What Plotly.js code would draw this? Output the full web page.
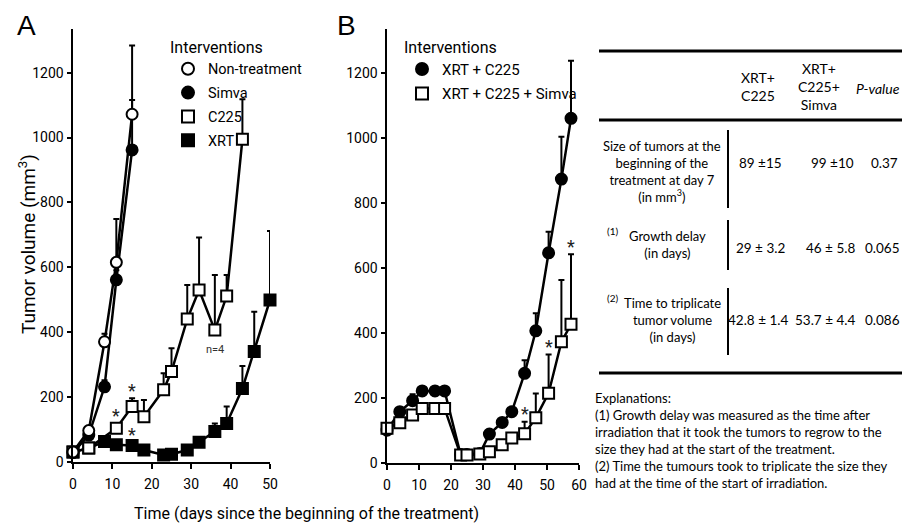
<!DOCTYPE html>
<html>
<head>
<meta charset="utf-8">
<script src="https://cdn.plot.ly/plotly-3.0.1.min.js"></script>
<style>html,body{margin:0;padding:0;background:#fff}#chart{width:906px;height:527px}</style>
</head>
<body>
<div id="chart"></div>
<script>
// ---------- Panel A data ----------
const daysNonTreat = [0, 4, 8, 11, 15];
const nonTreat     = [30, 96, 370, 615, 1072];
const nonTreatErr  = [5, 10, 25, 134, 212];

const daysSimva = [0, 4, 8, 11, 15];
const simva     = [28, 82, 231, 561, 962];
const simvaErr  = [5, 10, 20, 30, 154];

const daysC225 = [0, 4, 11, 15, 18, 23, 25, 29, 32, 36, 39, 43];
const c225     = [30, 42, 103, 170, 139, 222, 278, 440, 530, 406, 511, 995];
const c225Err  = [5, 8, 15, 26, 51, 51, 72, 105, 162, 170, 65, 123];

const daysXRT = [0, 4, 8, 11, 15, 18, 23, 25, 29, 32, 36, 39, 43, 46, 50];
const xrt     = [30, 42, 62, 52, 50, 36, 21, 23, 36, 60, 93, 118, 226, 340, 499];
const xrtErr  = [5, 5, 10, 8, 8, 6, 5, 5, 6, 10, 25, 52, 69, 123, 213];

// ---------- Panel B data ----------
const daysB       = [0, 4, 8, 11, 15, 18, 23, 25, 29, 32, 36, 39, 43, 46.5, 50.5, 54.5, 57.5];
const xrtC225     = [100, 157, 191, 221, 221, 221, 25, 25, 28, 88, 124, 157, 275, 406, 646, 873, 1060];
const xrtC225Err  = [8, 8, 20, 8, 8, 8, 4, 4, 5, 8, 8, 10, 40, 54, 65, 130, 177];
const xrtC225Sim    = [106, 123, 147, 167, 167, 167, 24, 24, 27, 34, 55, 76, 89, 138, 214, 372, 426];
const xrtC225SimErr = [10, 8, 8, 8, 8, 8, 4, 4, 5, 6, 8, 8, 37, 75, 119, 190, 216];

// significance markers (indices into series)
const starsC225A = [2, 3];
const starsXRTA  = [4];
const starsSimB  = [12, 14, 16];
const nNoteIdx = 9; const nNoteText = 'n=4';

// ticks
const xTicksA = [0, 10, 20, 30, 40, 50];
const xTicksB = [0, 10, 20, 30, 40, 50, 60];
const yTicks  = [0, 200, 400, 600, 800, 1000, 1200];

// ---------- Table ----------
const tableHeaders = ['XRT+<br>C225', 'XRT+<br>C225+<br>Simva', '<i>P-value</i>'];
const rowLabels = ['Size of tumors at the<br>beginning of the<br>treatment at day 7<br>(in mm<sup>3</sup>)',
                   'Growth delay<br>(in days)',
                   'Time to triplicate<br>tumor volume<br>(in days)'];
const rowNotes = ['', '(1)', '(2)'];
const colXRTC225 = ['89 ±15', '29 ± 3.2', '42.8 ± 1.4'];
const colXRTC225Sim = ['99 ±10', '46 ± 5.8', '53.7 ± 4.4'];
const pValues = ['0.37', '0.065', '0.086'];
const explanation = ['Explanations:',
  '(1) Growth delay was measured as the time after',
  'irradiation that it took the tumors to regrow to the',
  'size they had at the start of the treatment.',
  '(2) Time the tumours took to triplicate the size they',
  'had at the time of the start of irradiation.'];

// ---------- helpers ----------
const W = 906, H = 527;
const px = v => v / W;
const py = v => 1 - v / H;
const FONT = "Roboto, 'Liberation Sans', sans-serif";
const TFONT = "Lato, 'Liberation Sans', sans-serif";
const zeros = a => a.map(() => 0);

function series(name, x, y, err, xa, ya, symbol, fill) {
  return {
    name: name, x: x, y: y, type: 'scatter', mode: 'lines+markers',
    xaxis: xa, yaxis: ya, showlegend: false, cliponaxis: false,
    line: {color: 'black', width: 2.5},
    marker: {symbol: symbol, size: 11, color: fill, line: {color: 'black', width: 2}},
    error_y: {type: 'data', symmetric: false, array: err, arrayminus: zeros(err),
              color: 'black', thickness: 2, width: 3}
  };
}
function legendEntry(name, symbol, fill, legend) {
  return {name: name, x: [null], y: [null], type: 'scatter', mode: 'markers',
    legend: legend, legendgroup: name, showlegend: true,
    marker: {symbol: symbol, size: 12, color: fill, line: {color: 'black', width: 2}}};
}

const traces = [
  series('XRT', daysXRT, xrt, xrtErr, 'x', 'y', 'square', 'black'),
  series('C225', daysC225, c225, c225Err, 'x', 'y', 'square', 'white'),
  series('Simva', daysSimva, simva, simvaErr, 'x', 'y', 'circle', 'black'),
  series('Non-treatment', daysNonTreat, nonTreat, nonTreatErr, 'x', 'y', 'circle', 'white'),
  series('XRT + C225', daysB, xrtC225, xrtC225Err, 'x2', 'y2', 'circle', 'black'),
  series('XRT + C225 + Simva', daysB, xrtC225Sim, xrtC225SimErr, 'x2', 'y2', 'square', 'white'),
  legendEntry('Non-treatment', 'circle', 'white', 'legend'),
  legendEntry('Simva', 'circle', 'black', 'legend'),
  legendEntry('C225', 'square', 'white', 'legend'),
  legendEntry('XRT', 'square', 'black', 'legend'),
  legendEntry('XRT + C225', 'circle', 'black', 'legend2'),
  legendEntry('XRT + C225 + Simva', 'square', 'white', 'legend2')
];

const ann = [];
function paperText(x, y, text, font, extra) {
  ann.push(Object.assign({x: px(x), y: py(y), xref: 'paper', yref: 'paper', text: text, showarrow: false,
    xanchor: 'center', yanchor: 'middle', align: 'center', font: font}, extra || {}));
}
function star(xs, ys, es, idx, xr, yr) {
  idx.forEach(i => ann.push({x: xs[i], y: ys[i] + es[i], xref: xr, yref: yr, text: '*',
    showarrow: false, xanchor: 'center', yanchor: 'middle', yshift: 8,
    font: {family: FONT, size: 18, color: '#222'}}));
}
star(daysC225, c225, c225Err, starsC225A, 'x', 'y');
star(daysXRT, xrt, xrtErr, starsXRTA, 'x', 'y');
star(daysB, xrtC225Sim, xrtC225SimErr, starsSimB, 'x2', 'y2');
ann.push({x: daysC225[nNoteIdx], y: c225[nNoteIdx], xref: 'x', yref: 'y', text: nNoteText,
  showarrow: false, xanchor: 'center', yanchor: 'middle', yshift: -19,
  font: {family: FONT, size: 11, color: '#333'}});

// panel letters
paperText(26, 25, 'A', {family: "'Liberation Sans', sans-serif", size: 28, color: 'black'});
paperText(346, 25, 'B', {family: "'Liberation Sans', sans-serif", size: 28, color: 'black'});
// axis titles
paperText(27, 244, 'Tumor volume (mm<sup>3</sup>)', {family: FONT, size: 19, color: 'black'}, {textangle: -90});
paperText(306, 513, 'Time (days since the beginning of the treatment)', {family: FONT, size: 16, color: 'black'});

// table text
const headX = [758, 819, 878], headY = [87, 86, 88];
tableHeaders.forEach((t, i) => paperText(headX[i], headY[i], t, {family: TFONT, size: 14, color: 'black'}));
const rowLabelX = [662, 667, 672], rowLabelY = [171, 245, 320], valY = [163, 248, 320], noteY = [0, 231, 298];
const col1X = [760, 760, 758], col2X = [832, 830, 825], col3X = [884, 882, 882];
rowLabels.forEach((t, i) => {
  paperText(rowLabelX[i], rowLabelY[i], t, {family: TFONT, size: 13, color: 'black'});
  if (rowNotes[i]) paperText(612, noteY[i], rowNotes[i], {family: TFONT, size: 10, color: 'black'});
  paperText(col1X[i], valY[i], colXRTC225[i], {family: TFONT, size: 13.5, color: 'black'});
  paperText(col2X[i], valY[i], colXRTC225Sim[i], {family: TFONT, size: 13.5, color: 'black'});
  paperText(col3X[i], valY[i], pValues[i], {family: TFONT, size: 13.5, color: 'black'});
});
paperText(593, 388, explanation.join('<br>'), {family: TFONT, size: 13, color: 'black'},
  {xanchor: 'left', yanchor: 'top', align: 'left'});

const shapes = [];
[51, 120, 373].forEach(yy => shapes.push({type: 'line', xref: 'paper', yref: 'paper',
  x0: px(599), x1: px(902), y0: py(yy), y1: py(yy), line: {color: 'black', width: 3}}));
[[130, 208], [220, 270], [288, 355]].forEach(r => shapes.push({type: 'line', xref: 'paper', yref: 'paper',
  x0: px(728), x1: px(728), y0: py(r[0]), y1: py(r[1]), line: {color: 'black', width: 2}}));

const axisCommon = {showline: true, linecolor: 'black', linewidth: 2.5, ticks: 'outside', tickwidth: 2,
  tickcolor: 'black', showgrid: false, zeroline: false, tickfont: {family: FONT, size: 14, color: 'black'}};

const layout = {
  width: W, height: H, margin: {l: 0, r: 0, t: 0, b: 0},
  paper_bgcolor: 'white', plot_bgcolor: 'rgba(0,0,0,0)', showlegend: true,
  xaxis: Object.assign({}, axisCommon, {domain: [px(73), px(270)], range: [0, 50], tickvals: xTicksA,
    ticklen: 5, ticklabelstandoff: 3, anchor: 'y'}),
  yaxis: Object.assign({}, axisCommon, {domain: [py(461.7), py(29)], range: [0, 1335], tickvals: yTicks,
    ticklen: 4, anchor: 'x'}),
  xaxis2: Object.assign({}, axisCommon, {domain: [px(387), px(579)], range: [0, 60], tickvals: xTicksB,
    ticklen: 5, ticklabelstandoff: 3, anchor: 'y2'}),
  yaxis2: Object.assign({}, axisCommon, {domain: [py(462.7), py(29)], range: [0, 1335], tickvals: yTicks,
    ticklen: 4, anchor: 'x2'}),
  legend: {x: px(168), y: py(32), xanchor: 'left', yanchor: 'top', bgcolor: 'rgba(0,0,0,0)',
    font: {family: FONT, size: 14.5, color: 'black'}, tracegroupgap: 2, itemwidth: 30,
    title: {text: 'Interventions', font: {family: FONT, size: 16, color: 'black'}}},
  legend2: {x: px(402), y: py(32), xanchor: 'left', yanchor: 'top', bgcolor: 'rgba(0,0,0,0)',
    font: {family: FONT, size: 15, color: 'black'}, tracegroupgap: 2, itemwidth: 30,
    title: {text: 'Interventions', font: {family: FONT, size: 16, color: 'black'}}},
  annotations: ann, shapes: shapes
};

Plotly.newPlot('chart', traces, layout, {displayModeBar: false, staticPlot: true});
</script>
</body>
</html>
